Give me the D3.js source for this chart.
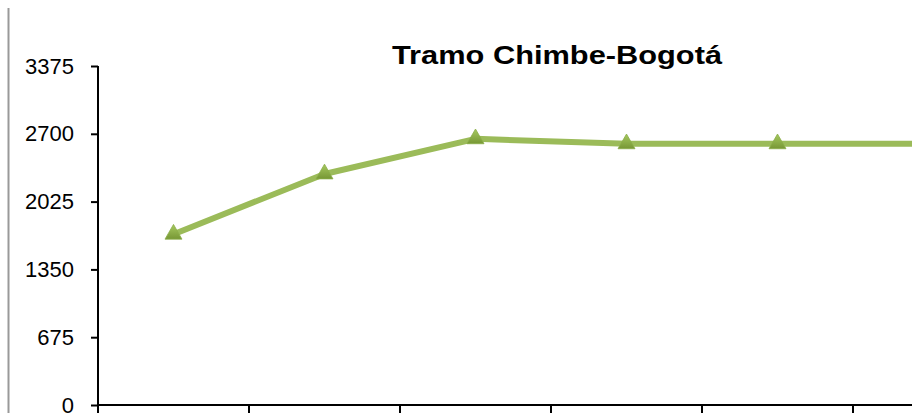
<!DOCTYPE html>
<html>
<head>
<meta charset="utf-8">
<script src="https://cdn.jsdelivr.net/npm/d3@7"></script>
<style>
  html, body { margin: 0; padding: 0; background: #fff; }
  svg { display: block; }
</style>
</head>
<body>
<svg id="chart" width="912" height="413"></svg>
<script>
const categories = ["1", "2", "3", "4", "5", "6", "7"];
const values = [1700, 2300, 2650, 2600, 2600, 2600, 2600];
const yTicks = [0, 675, 1350, 2025, 2700, 3375];
const title = "Tramo Chimbe-Bogotá";

const svg = d3.select("#chart");
const W = 912, H = 413;

// left border line
svg.append("line")
  .attr("x1", 8.5).attr("x2", 8.5).attr("y1", 8).attr("y2", H)
  .attr("stroke", "#999").attr("stroke-width", 2);

const x = d3.scaleBand().domain(categories).range([98, 98 + 151 * categories.length]).padding(0);
const y = d3.scaleLinear().domain([0, 3375]).range([405, 66]);

// Y axis
const yAxis = svg.append("g")
  .attr("transform", "translate(98,0)")
  .call(d3.axisLeft(y).tickValues(yTicks).tickSize(7).tickPadding(17).tickFormat(d3.format("d")));
yAxis.attr("font-size", null).attr("font-family", null);
yAxis.select(".domain").attr("stroke", "#000").attr("stroke-width", 2).attr("d", `M0,${y(3375)}V${y(0)}`);
yAxis.selectAll(".tick line").attr("stroke", "#000").attr("stroke-width", 2);
yAxis.selectAll(".tick text")
  .style("font-family", "'Liberation Sans', Arial, sans-serif")
  .style("font-size", "22px").attr("fill", "#000");

// X axis
const xAxis = svg.append("g").attr("transform", `translate(0,${y(0)})`);
xAxis.append("line")
  .attr("x1", x.range()[0] - 1).attr("x2", x.range()[1])
  .attr("stroke", "#000").attr("stroke-width", 2);
xAxis.selectAll("line.tk").data(categories).enter().append("line")
  .attr("class", "tk")
  .attr("x1", d => x(d)).attr("x2", d => x(d))
  .attr("y1", 0).attr("y2", 8)
  .attr("stroke", "#000").attr("stroke-width", 2);

// gradient for markers
const defs = svg.append("defs");
const grad = defs.append("linearGradient").attr("id", "mk").attr("x1", 0).attr("y1", 0).attr("x2", 0).attr("y2", 1);
grad.append("stop").attr("offset", "0%").attr("stop-color", "#a6c95f");
grad.append("stop").attr("offset", "100%").attr("stop-color", "#779735");

const cx = d => x(d) + x.bandwidth() / 2;
const pts = categories.map((c, i) => [cx(c), y(values[i])]);

svg.append("path")
  .datum(pts)
  .attr("fill", "none")
  .attr("stroke", "#9bbb59")
  .attr("stroke-width", 6)
  .attr("stroke-linejoin", "round")
  .attr("d", d3.line());

svg.selectAll("path.mk").data(pts).enter().append("path")
  .attr("class", "mk")
  .attr("transform", d => `translate(${d[0]},${d[1]})`)
  .attr("d", d3.symbol().type(d3.symbolTriangle).size(125))
  .attr("fill", "url(#mk)")
  .attr("stroke", "#8aad47").attr("stroke-width", 0.8);

// Title
svg.append("text")
  .attr("x", 557).attr("y", 64)
  .attr("text-anchor", "middle")
  .attr("textLength", 330)
  .attr("lengthAdjust", "spacingAndGlyphs")
  .style("font-family", "'Liberation Sans', Arial, sans-serif")
  .style("font-weight", "bold")
  .style("font-size", "26px")
  .attr("fill", "#000")
  .text(title);
</script>
</body>
</html>
